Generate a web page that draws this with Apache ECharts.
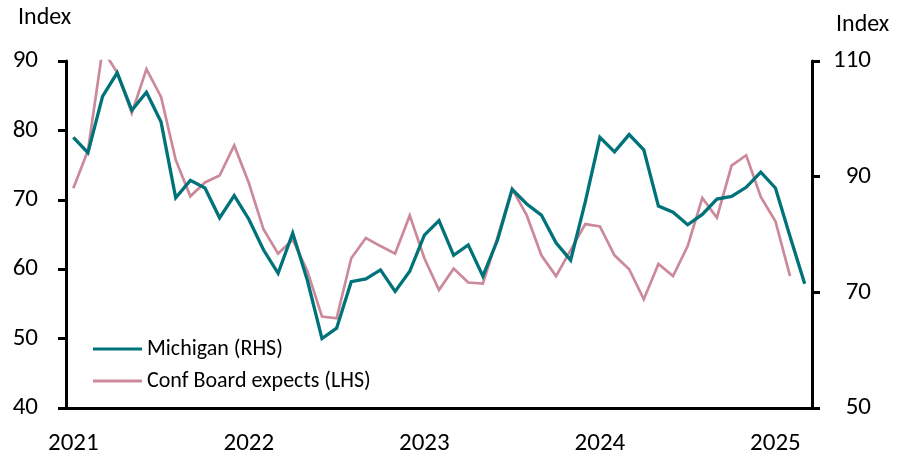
<!DOCTYPE html>
<html>
<head>
<meta charset="utf-8">
<script src="https://cdn.jsdelivr.net/npm/echarts@6/dist/echarts.min.js"></script>
<style>html,body{margin:0;padding:0;background:#fff;}#c{width:907px;height:456px;}</style>
</head>
<body>
<div id="c"></div>
<script>
// Monthly categories Jan 2021 .. Mar 2025
const years = ['2021','2022','2023','2024','2025'];
const months = [];
years.forEach(y => { for (let m = 1; m <= 12; m++) { if (y === '2025' && m > 3) break; months.push(y + '-' + String(m).padStart(2,'0')); } });

// Teal line (plotted against the left scale)
const michigan = [
  79.0, 76.8, 84.9, 88.3, 82.9, 85.5, 81.2, 70.3, 72.8, 71.7, 67.4, 70.6,
  67.2, 62.8, 59.4, 65.2, 58.4, 50.0, 51.5, 58.2, 58.6, 59.9, 56.8, 59.7,
  64.9, 67.0, 62.0, 63.5, 59.0, 64.2, 71.5, 69.4, 67.8, 63.8, 61.3, 69.7,
  79.0, 76.9, 79.4, 77.2, 69.1, 68.2, 66.4, 67.9, 70.1, 70.5, 71.8, 74.0,
  71.7, 64.7, 57.9
];
// Pink line (plotted against the right scale)
const confBoard = [
  88.0, 94.5, 112.0, 108.0, 101.0, 108.6, 103.8, 92.9, 86.6, 89.0, 90.2, 95.4,
  88.9, 80.9, 76.7, 79.1, 73.7, 65.8, 65.5, 75.9, 79.4, 78.0, 76.7, 83.3,
  75.9, 70.4, 74.1, 71.7, 71.5, 79.5, 87.9, 83.3, 76.4, 72.8, 77.3, 81.8,
  81.4, 76.4, 74.0, 68.8, 74.9, 72.8, 78.0, 86.3, 82.9, 91.9, 93.7, 86.5,
  82.3, 72.8
];
const seriesNames = ['Michigan (RHS)', 'Conf Board expects (LHS)'];
const leftTicks = [40, 90, 10];
const rightTicks = [50, 110, 20];

const FONT = "Carlito, 'Liberation Sans Narrow', 'Open Sans', sans-serif";
const TEAL = '#00727A';
const PINK = '#CC8999';

const chart = echarts.init(document.getElementById('c'));
chart.setOption({
  animation: false,
  backgroundColor: '#fff',
  grid: { left: 66, right: 95, top: 61, bottom: 47, containLabel: false },
  graphic: [
    { type: 'text', left: 18, top: 6, style: { text: 'Index', font: '24px ' + FONT, fill: '#000' } },
    { type: 'text', left: 836, top: 13, style: { text: 'Index', font: '24px ' + FONT, fill: '#000' } }
  ],
  legend: {
    orient: 'vertical',
    left: 93, top: 338, padding: 0,
    itemWidth: 49, itemHeight: 3, itemGap: 10,
    icon: 'rect',
    textStyle: { fontFamily: FONT, fontSize: 22, lineHeight: 22, color: '#000' },
    data: seriesNames
  },
  xAxis: {
    type: 'category',
    data: months,
    boundaryGap: true,
    axisLine: { lineStyle: { color: '#000', width: 3 } },
    axisTick: { interval: 11, length: 8, lineStyle: { color: '#000', width: 3 } },
    axisLabel: {
      interval: 0, margin: 23, color: '#000', fontFamily: FONT, fontSize: 25,
      formatter: v => v.endsWith('-01') ? v.slice(0,4) : ''
    },
    splitLine: { show: false }
  },
  yAxis: [
    {
      type: 'value', position: 'left', min: leftTicks[0], max: leftTicks[1], interval: leftTicks[2],
      axisLine: { show: true, lineStyle: { color: '#000', width: 3 } },
      axisTick: { show: true, length: 8, lineStyle: { color: '#000', width: 3 } },
      axisLabel: { margin: 28, color: '#000', fontFamily: FONT, fontSize: 25 },
      splitLine: { show: false }
    },
    {
      type: 'value', position: 'right', min: rightTicks[0], max: rightTicks[1], interval: rightTicks[2],
      axisLine: { show: true, lineStyle: { color: '#000', width: 3 } },
      axisTick: { show: true, length: 8, lineStyle: { color: '#000', width: 3 } },
      axisLabel: { margin: 59, align: 'right', color: '#000', fontFamily: FONT, fontSize: 25 },
      splitLine: { show: false }
    }
  ],
  series: [
    {
      name: seriesNames[0], type: 'line', yAxisIndex: 0, data: michigan,
      symbol: 'none', clip: true, z: 3,
      lineStyle: { color: TEAL, width: 3.3, join: 'miter' }, itemStyle: { color: TEAL }
    },
    {
      name: seriesNames[1], type: 'line', yAxisIndex: 1, data: confBoard,
      symbol: 'none', clip: true, z: 2,
      lineStyle: { color: PINK, width: 2.7, join: 'miter' }, itemStyle: { color: PINK }
    }
  ]
});
</script>
</body>
</html>
